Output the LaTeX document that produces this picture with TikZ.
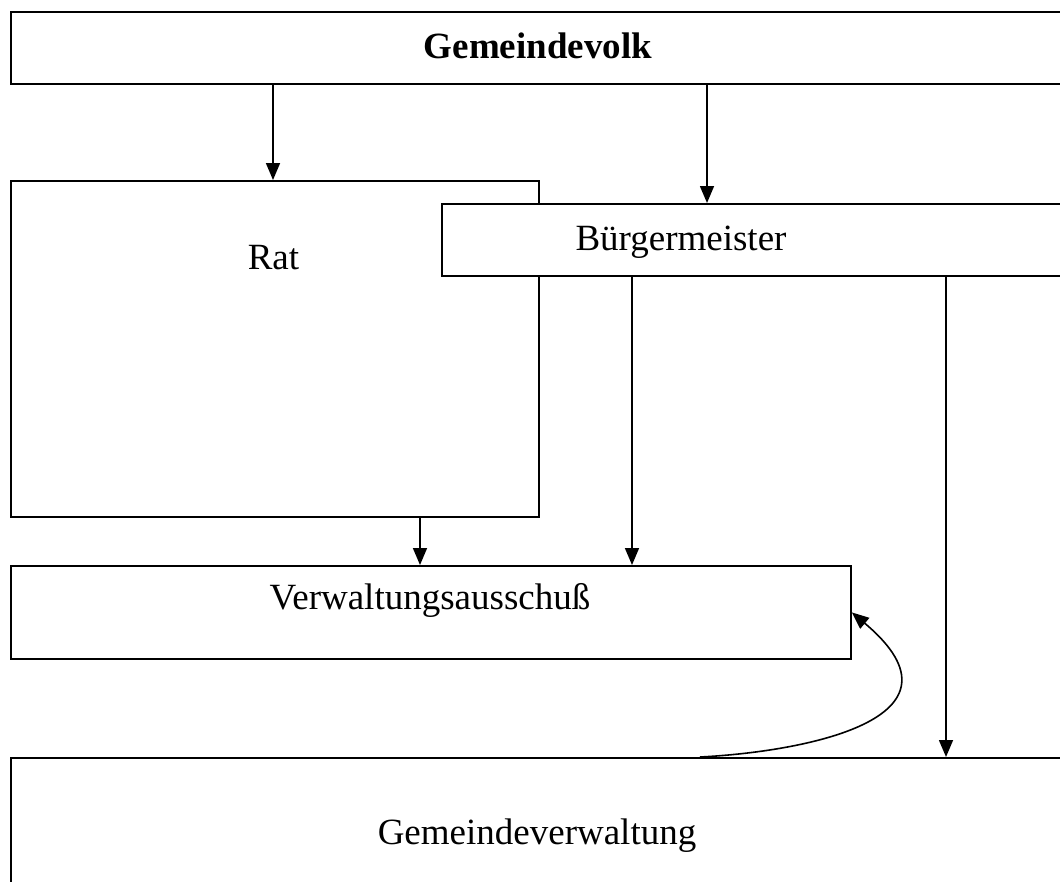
\documentclass[tikz,border=0pt]{standalone}
\usepackage{fontspec}
\setmainfont{Liberation Serif}
\usetikzlibrary{arrows.meta}
\tikzset{
  blk/.style={draw, line width=1.8pt, fill=white, inner sep=0pt, anchor=north west},
  lbl/.style={anchor=base, inner sep=0pt, font=\fontsize{37}{44}\selectfont},
  arr/.style={line width=1.6pt, -{Triangle[length=17pt,width=14pt]}}
}
\begin{document}
\begin{tikzpicture}[x=1pt,y=-1pt]
\clip (0,0) rectangle (1060,881);
% Kasten
\node[blk, minimum width=1070pt, minimum height=72pt] (volk) at (10,11) {};
\node[blk, minimum width=528pt, minimum height=336pt] (rat) at (10,180) {};
\node[blk, minimum width=640pt, minimum height=72pt] (buerg) at (441,203) {};
\node[blk, minimum width=840pt, minimum height=93pt] (aussch) at (10,565) {};
\node[blk, minimum width=1070pt, minimum height=140pt] (verw) at (10,757) {};
% Beschriftung
\node[lbl, font=\fontsize{37}{44}\selectfont\bfseries] (volktxt) at (538,58) {Gemeindevolk};
\node[lbl] (rattxt) at (273.5,269) {Rat};
\node[lbl] (buergtxt) at (681,250) {Bürgermeister};
\node[lbl] (ausschtxt) at (430,609) {Verwaltungsausschuß};
\node[lbl] (verwtxt) at (537,844) {Gemeindeverwaltung};
% Pfeile
\coordinate (xa) at (273,0);
\coordinate (xb) at (707,0);
\coordinate (xc) at (420,0);
\coordinate (xd) at (632,0);
\coordinate (xe) at (946,0);
\coordinate (xf) at (700,0);
\draw[arr] (volk.south -| xa) -- (rat.north -| xa);
\draw[arr] (volk.south -| xb) -- (buerg.north -| xb);
\draw[arr] (rat.south -| xc) -- (aussch.north -| xc);
\draw[arr] (buerg.south -| xd) -- (aussch.north -| xd);
\draw[arr] (buerg.south -| xe) -- (verw.north -| xe);
\draw[arr] (verw.north -| xf) .. controls (800,752) and (980,720) .. (aussch.east);
\end{tikzpicture}
\end{document}
